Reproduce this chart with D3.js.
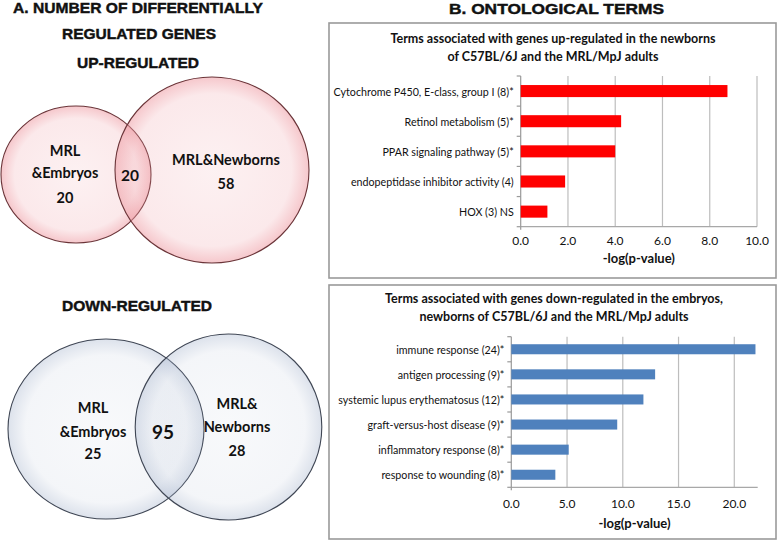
<!DOCTYPE html>
<html><head><meta charset="utf-8">
<script src="https://cdn.jsdelivr.net/npm/d3@7/dist/d3.min.js"></script>
<style>html,body{margin:0;padding:0;background:#fff}svg{display:block}</style>
</head><body>
<script>
// ---------- DATA ----------
const upTerms = ["Cytochrome P450, E-class, group I (8)*", "Retinol metabolism (5)*", "PPAR signaling pathway (5)*", "endopeptidase inhibitor activity (4)", "HOX (3) NS"];
const upValues = [8.75, 4.25, 4.0, 1.88, 1.13];
const upTicks = [0, 2, 4, 6, 8, 10];
const downTerms = ["immune response (24)*", "antigen processing (9)*", "systemic lupus erythematosus (12)*", "graft-versus-host disease (9)*", "inflammatory response (8)*", "response to wounding (8)*"];
const downValues = [21.9, 12.9, 11.85, 9.5, 5.15, 3.95];
const downTicks = [0, 5, 10, 15, 20];
const upTitle = ["Terms associated with genes up-regulated in the newborns", "of C57BL/6J and the MRL/MpJ adults"];
const downTitle = ["Terms associated with genes down-regulated in the embryos,", "newborns of C57BL/6J and the MRL/MpJ adults"];
const axisLabel = "-log(p-value)";
const vennUpCounts = [20, 20, 58];      // MRL&Embryos only, shared, MRL&Newborns only
const vennDownCounts = [25, 95, 28];

// ---------- SVG ----------
const W = 778, H = 541;
const svg = d3.select("body").append("svg").attr("width", W).attr("height", H);
const defs = svg.append("defs");

function radial(id, color, o0, o1, o2) {
  const g = defs.append("radialGradient").attr("id", id).attr("cx", "50%").attr("cy", "50%").attr("r", "50%");
  g.append("stop").attr("offset", "0%").attr("stop-color", color).attr("stop-opacity", o0);
  g.append("stop").attr("offset", "82%").attr("stop-color", color).attr("stop-opacity", o1);
  g.append("stop").attr("offset", "100%").attr("stop-color", color).attr("stop-opacity", o2);
}
radial("pink", "#EE9AA2", 0.14, 0.22, 0.55);
radial("blue", "#A8B6CE", 0.08, 0.13, 0.4);

const HEAD = "'Liberation Sans', Arial, sans-serif";
const BODY = "Lato, 'Open Sans', sans-serif";

function heading(text, cx, y, len) {
  svg.append("text").attr("x", cx).attr("y", y).attr("text-anchor", "middle")
    .attr("font-family", HEAD).attr("font-weight", "bold").attr("font-size", 15.5)
    .attr("textLength", len).attr("lengthAdjust", "spacingAndGlyphs")
    .attr("fill", "#111").attr("stroke", "#111").attr("stroke-width", 0.45).text(text);
}
heading("A. NUMBER OF DIFFERENTIALLY", 138, 12.5, 250);
heading("REGULATED GENES", 139, 39, 154);
heading("UP-REGULATED", 138, 68, 122);
heading("DOWN-REGULATED", 137, 311, 150);
heading("B. ONTOLOGICAL TERMS", 556.5, 14, 215);

// ---------- VENN ----------
function venn(circles, grad, stroke, labels) {
  const g = svg.append("g");
  g.selectAll("ellipse").data(circles).join("ellipse")
    .attr("cx", d => d.cx).attr("cy", d => d.cy).attr("rx", d => d.rx).attr("ry", d => d.ry)
    .attr("fill", `url(#${grad})`).attr("stroke", stroke).attr("stroke-width", 1.1);
  g.selectAll("text").data(labels).join("text")
    .attr("x", d => d.x).attr("y", d => d.y).attr("text-anchor", "middle").attr("dominant-baseline", "central")
    .attr("font-family", BODY).attr("font-weight", "bold").attr("font-size", d => d.size || 14.5)
    .attr("fill", "#111").text(d => d.t);
}
venn([{cx: 76, cy: 174.5, rx: 75, ry: 68.5}, {cx: 212, cy: 170, rx: 97, ry: 93}], "pink", "#6a3438", [
  {t: "MRL", x: 65, y: 150}, {t: "&Embryos", x: 65, y: 172}, {t: String(vennUpCounts[0]), x: 65, y: 197},
  {t: String(vennUpCounts[1]), x: 130, y: 175, size: 15.5},
  {t: "MRL&Newborns", x: 226, y: 159}, {t: String(vennUpCounts[2]), x: 226, y: 183}
]);
venn([{cx: 106, cy: 429, rx: 98, ry: 90}, {cx: 228.5, cy: 427, rx: 93.3, ry: 93}], "blue", "#3f4654", [
  {t: "MRL", x: 93, y: 407}, {t: "&Embryos", x: 93, y: 431}, {t: String(vennDownCounts[0]), x: 93, y: 453},
  {t: String(vennDownCounts[1]), x: 163, y: 431, size: 19},
  {t: "MRL&", x: 237, y: 403}, {t: "Newborns", x: 237, y: 426}, {t: String(vennDownCounts[2]), x: 237, y: 450}
]);

// ---------- BAR CHARTS ----------
function barChart(o) {
  const g = svg.append("g");
  g.append("rect").attr("x", o.box[0]).attr("y", o.box[1]).attr("width", o.box[2] - o.box[0]).attr("height", o.box[3] - o.box[1])
    .attr("fill", "#fff").attr("stroke", "#9a9a9a").attr("stroke-width", 1.6);
  const x = d3.scaleLinear().domain([0, o.max]).range(o.xr);
  const y = d3.scaleBand().domain(o.terms).range(o.yr).paddingInner(0.6).paddingOuter(0.3);
  const [y0, y1] = o.yr;
  g.selectAll("line.grid").data(o.ticks.filter(t => t > 0)).join("line").attr("class", "grid")
    .attr("x1", d => x(d)).attr("x2", d => x(d)).attr("y1", y0).attr("y2", y1)
    .attr("stroke", "#bdbdbd").attr("stroke-width", 1.2);
  g.append("line").attr("x1", x(0)).attr("x2", o.xr[1]).attr("y1", y1).attr("y2", y1).attr("stroke", "#a8a8a8").attr("stroke-width", 1.2);
  g.append("line").attr("x1", x(0)).attr("x2", x(0)).attr("y1", y0).attr("y2", y1 + 3).attr("stroke", "#9a9a9a").attr("stroke-width", 1.2);
  const bounds = d3.range(o.terms.length + 1).map(i => y0 + i * (y1 - y0) / o.terms.length);
  g.selectAll("line.yt").data(bounds).join("line").attr("class", "yt")
    .attr("x1", x(0) - 4).attr("x2", x(0)).attr("y1", d => d).attr("y2", d => d).attr("stroke", "#9a9a9a").attr("stroke-width", 1.2);
  g.selectAll("rect.bar").data(o.values).join("rect").attr("class", "bar")
    .attr("x", x(0)).attr("y", (d, i) => y(o.terms[i])).attr("width", d => x(d) - x(0)).attr("height", y.bandwidth())
    .attr("fill", o.color);
  g.selectAll("text.cat").data(o.terms).join("text").attr("class", "cat")
    .attr("x", x(0) - 7).attr("y", d => y(d) + y.bandwidth() / 2).attr("text-anchor", "end").attr("dominant-baseline", "central")
    .attr("font-family", BODY).attr("font-size", o.catSize).attr("fill", "#111").text(d => d);
  g.selectAll("text.xt").data(o.ticks).join("text").attr("class", "xt")
    .attr("x", d => x(d)).attr("y", o.tickY).attr("text-anchor", "middle").attr("dominant-baseline", "central")
    .attr("font-family", BODY).attr("font-size", 12).attr("fill", "#111").text(d => d.toFixed(1));
  g.append("text").attr("x", (o.xr[0] + o.xr[1]) / 2).attr("y", o.labelY).attr("text-anchor", "middle").attr("dominant-baseline", "central")
    .attr("font-family", BODY).attr("font-weight", "bold").attr("font-size", 13).attr("fill", "#111").text(axisLabel);
  g.selectAll("text.title").data(o.title).join("text").attr("class", "title")
    .attr("x", o.titleX).attr("y", (d, i) => o.titleY + i * 18).attr("text-anchor", "middle")
    .attr("font-family", BODY).attr("font-weight", "bold").attr("font-size", 12.5).attr("fill", "#111").text(d => d);
}

barChart({box: [329, 23, 776, 278], terms: upTerms, values: upValues, ticks: upTicks, max: 10,
  xr: [520.7, 757], yr: [76, 226.7], color: "#FF0000", tickY: 240, labelY: 258,
  title: upTitle, titleX: 553, titleY: 43, catSize: 10.7});
barChart({box: [329, 285, 776, 539], terms: downTerms, values: downValues, ticks: downTicks, max: 22.1,
  xr: [511.3, 757.7], yr: [336.7, 487.3], color: "#4F81BD", tickY: 503, labelY: 523,
  title: downTitle, titleX: 554, titleY: 303, catSize: 10.7});
</script>
</body></html>
